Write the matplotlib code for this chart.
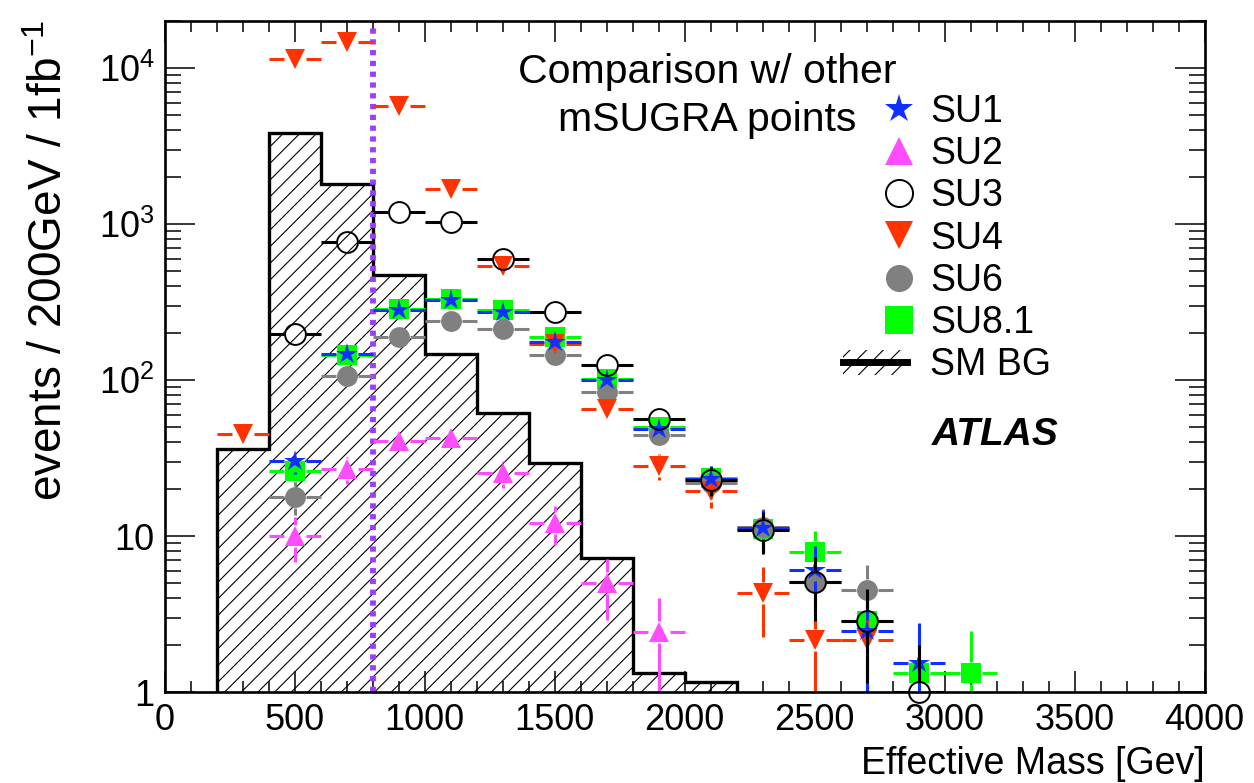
import numpy as np
import matplotlib
matplotlib.use('Agg')
import matplotlib.pyplot as plt
from matplotlib.lines import Line2D
from matplotlib.patches import Rectangle
from matplotlib.legend_handler import HandlerBase
from matplotlib.ticker import FixedLocator, FixedFormatter, MultipleLocator, LogLocator, NullFormatter

plt.rcParams['font.family'] = ['Liberation Sans', 'DejaVu Sans']
plt.rcParams['mathtext.fontset'] = 'custom'
plt.rcParams['mathtext.rm'] = 'Liberation Sans'
plt.rcParams['mathtext.it'] = 'Liberation Sans:italic'
plt.rcParams['mathtext.bf'] = 'Liberation Sans:bold'
plt.rcParams['mathtext.default'] = 'regular'
plt.rcParams['hatch.linewidth'] = 0.8

# ---------------- data ----------------
bg_edges = [200, 400, 600, 800, 1000, 1200, 1400, 1600, 1800, 2000, 2200]
bg_values = [36.1, 3830, 1805, 469, 148, 62.0, 29.4, 7.2, 1.32, 1.17]

su1_x = [500, 700, 900, 1100, 1300, 1500, 1700, 1900, 2100, 2300, 2500, 2700, 2900]
su1_y = [30.4, 147, 281, 327, 275, 175, 100, 48.5, 23.2, 11.3, 6.1, 2.48, 1.53]
su1_e = [5.5, 12.1, 16.8, 18.1, 16.6, 13.2, 10.0, 7.0, 4.8, 3.4, 2.5, 1.6, 1.24]

su2_x = [500, 700, 900, 1100, 1300, 1500, 1700, 1900]
su2_y = [10.0, 26.9, 40.8, 42.5, 25.3, 12.2, 5.0, 2.45]
su2_e = [3.2, 5.2, 6.4, 6.5, 5.0, 3.4, 2.1, 1.55]

su3_x = [500, 700, 900, 1100, 1300, 1500, 1700, 1900, 2100, 2300, 2500, 2700, 2900]
su3_y = [198, 773, 1199, 1035, 599, 275, 125, 56, 22.9, 11.0, 5.12, 2.86, 1.0]
su3_e = [14, 28, 35, 32, 24.5, 16.6, 11.2, 7.5, 4.8, 3.3, 2.26, 1.72, 1.0]

su4_x = [300, 500, 700, 900, 1100, 1300, 1500, 1700, 1900, 2100, 2300, 2500, 2700]
su4_y = [45.3, 11400, 14680, 5730, 1677, 535, 170, 65, 28.2, 19.4, 4.31, 2.16, 2.16]
su4_e = [6.7, 107, 121, 76, 41, 23, 13, 8.1, 5.3, 4.3, 2.05, 1.47, 1.47]

su6_x = [500, 700, 900, 1100, 1300, 1500, 1700, 1900, 2100, 2300, 2500, 2700]
su6_y = [17.9, 107, 190, 241, 212, 145, 84, 44.2, 22.0, 11.5, 5.1, 4.53]
su6_e = [4.2, 10.3, 13.8, 15.5, 14.6, 12.0, 9.2, 6.6, 4.7, 3.4, 2.26, 2.05]

su81_x = [500, 700, 900, 1100, 1300, 1500, 1700, 1900, 2100, 2300, 2500, 2700, 2900, 3100]
su81_y = [26.2, 145, 285, 332, 280, 189, 102, 50, 23.5, 11.2, 7.93, 2.86, 1.32, 1.32]
su81_e = [5.1, 12.0, 16.9, 18.2, 16.7, 13.7, 10.1, 7.1, 4.8, 3.3, 2.8, 1.7, 1.15, 1.15]

bin_half = 100
cut_x = 800

xticks = [0, 500, 1000, 1500, 2000, 2500, 3000, 3500, 4000]
yticks = [1, 10, 100, 1000, 10000]
ytick_labels = ['1', '10', r'$10^{2}$', r'$10^{3}$', r'$10^{4}$']

BLUE = '#1030ff'
MAGENTA = '#ff4cff'
RED = '#ff3300'
GREY = '#808080'
GREEN = '#00ff00'
PURPLE = '#9d3cff'

# ---------------- figure ----------------
W, H = 1254, 783
fig = plt.figure(figsize=(W / 100, H / 100), dpi=100)
ax_l, ax_r, ax_t, ax_b = 164.5, 1204.5, 21.0, 692.3
ax = fig.add_axes([ax_l / W, 1 - ax_b / H, (ax_r - ax_l) / W, (ax_b - ax_t) / H])
ax.set_xlim(0, 4000)
ax.set_yscale('log')
ax.set_ylim(1, 2.0e4)

# gap sizes around markers (pixels -> data)
gap_px = 11.0
px_per_x = (ax_r - ax_l) / 4000.0
px_per_dec = (ax_b - ax_t) / np.log10(2.0e4)
gx = gap_px / px_per_x
gy = 10 ** (gap_px / px_per_dec)

# SM background histogram
ax.stairs(bg_values, bg_edges, baseline=1, fill=True, facecolor='none',
          edgecolor='black', hatch='//', lw=0, zorder=1)
ax.stairs(bg_values, bg_edges, baseline=1, fill=False, color='black', lw=2.4, zorder=2)

ax.axvline(cut_x, color=PURPLE, lw=4.2, ls=(0, (0.9, 0.95)), zorder=2.5)

LW = 2.2


def draw_series(x, y, e, color, marker, ms, z, face=None, mew=0.0, ecolor=None):
    ec = ecolor or color
    for xi, yi, ei in zip(x, y, e):
        ax.plot([xi - bin_half, xi - gx], [yi, yi], color=ec, lw=LW, zorder=z,
                solid_capstyle='butt')
        ax.plot([xi + gx, xi + bin_half], [yi, yi], color=ec, lw=LW, zorder=z,
                solid_capstyle='butt')
        up = yi + ei
        if up > yi * gy:
            ax.plot([xi, xi], [yi * gy, up], color=ec, lw=LW, zorder=z, solid_capstyle='butt')
        lo = yi - ei
        if lo < yi / gy:
            ax.plot([xi, xi], [max(lo, 0.5), yi / gy], color=ec, lw=LW, zorder=z,
                    solid_capstyle='butt')
    ax.plot(x, y, ls='none', marker=marker, ms=ms,
            mfc=(color if face is None else face), mec=color, mew=mew,
            zorder=z + 0.5, clip_on=False)


draw_series(su81_x, su81_y, su81_e, GREEN, 's', 14.5, 4)
draw_series(su2_x, su2_y, su2_e, MAGENTA, '^', 14.5, 5)
draw_series(su6_x, su6_y, su6_e, GREY, 'o', 15, 6)
draw_series(su4_x, su4_y, su4_e, RED, 'v', 14.5, 7)
draw_series(su1_x, su1_y, su1_e, BLUE, '*', 16, 8)
draw_series(su3_x, su3_y, su3_e, 'black', 'o', 15, 9, face='none', mew=1.4)

# ---------------- axes styling ----------------
for s in ax.spines.values():
    s.set_linewidth(1.9)
    s.set_zorder(10)

ax.xaxis.set_major_locator(FixedLocator(xticks))
ax.xaxis.set_minor_locator(MultipleLocator(100))
ax.yaxis.set_major_locator(FixedLocator(yticks))
ax.yaxis.set_major_formatter(FixedFormatter(ytick_labels))
ax.yaxis.set_minor_locator(LogLocator(base=10, subs=np.arange(2, 10)))
ax.yaxis.set_minor_formatter(NullFormatter())

ax.tick_params(axis='both', which='both', direction='in', top=True, right=True,
               width=1.1, labelsize=26, zorder=10)
ax.tick_params(axis='x', which='major', length=15, pad=8)
ax.tick_params(axis='x', which='minor', length=8)
ax.tick_params(axis='y', which='major', length=21.5, pad=7)
ax.tick_params(axis='y', which='minor', length=11.5)

# labels
fig.text(50 / W, 1 - 20 / H, r'events / 200GeV / 1fb$^{-1}$', rotation=90,
         ha='center', va='top', fontsize=33)
fig.text(1205 / W, 1 - 774 / H, 'Effective Mass [Gev]', ha='right', va='baseline',
         fontsize=27)
fig.text(707 / W, 1 - 96 / H, 'Comparison w/ other\nmSUGRA points', ha='center',
         va='center', fontsize=29.5, linespacing=1.32)
fig.text(932 / W, 1 - 445 / H, 'ATLAS', ha='left', va='baseline', fontsize=28,
         fontweight='bold', fontstyle='italic')


# ---------------- legend ----------------
class HandlerBG(HandlerBase):
    def create_artists(self, legend, orig_handle, xdescent, ydescent, width, height,
                       fontsize, trans):
        yc = height / 2 - ydescent
        x0 = -xdescent - 29.5
        x1 = -xdescent + width - 5
        r = Rectangle((x0, yc - 9), x1 - x0, 18, facecolor='none', edgecolor='black',
                      hatch='//', lw=0, transform=trans)
        ln = Line2D([x0, x1], [yc, yc], color='black', lw=5, transform=trans)
        return [r, ln]


bg_handle = Rectangle((0, 0), 1, 1)
handles = [
    Line2D([], [], ls='none', marker='*', ms=21, mfc=BLUE, mec=BLUE, mew=0),
    Line2D([], [], ls='none', marker='^', ms=19.5, mfc=MAGENTA, mec=MAGENTA, mew=0),
    Line2D([], [], ls='none', marker='o', ms=19.5, mfc='none', mec='black', mew=1.4),
    Line2D([], [], ls='none', marker='v', ms=19.5, mfc=RED, mec=RED, mew=0),
    Line2D([], [], ls='none', marker='o', ms=19.5, mfc=GREY, mec=GREY, mew=0),
    Line2D([], [], ls='none', marker='s', ms=19.5, mfc=GREEN, mec=GREEN, mew=0),
    bg_handle,
]
labels = ['SU1', 'SU2', 'SU3', 'SU4', 'SU6', 'SU8.1', 'SM BG']
leg = ax.legend(handles, labels, loc='upper left',
                bbox_to_anchor=(884 / W, 1 - 94 / H), bbox_transform=fig.transFigure,
                frameon=False, fontsize=27, borderpad=0, borderaxespad=0,
                labelspacing=0.165, handlelength=0.8, handletextpad=0.43,
                handler_map={bg_handle: HandlerBG()})
leg.set_zorder(11)

fig.savefig('out.png', dpi=100)
